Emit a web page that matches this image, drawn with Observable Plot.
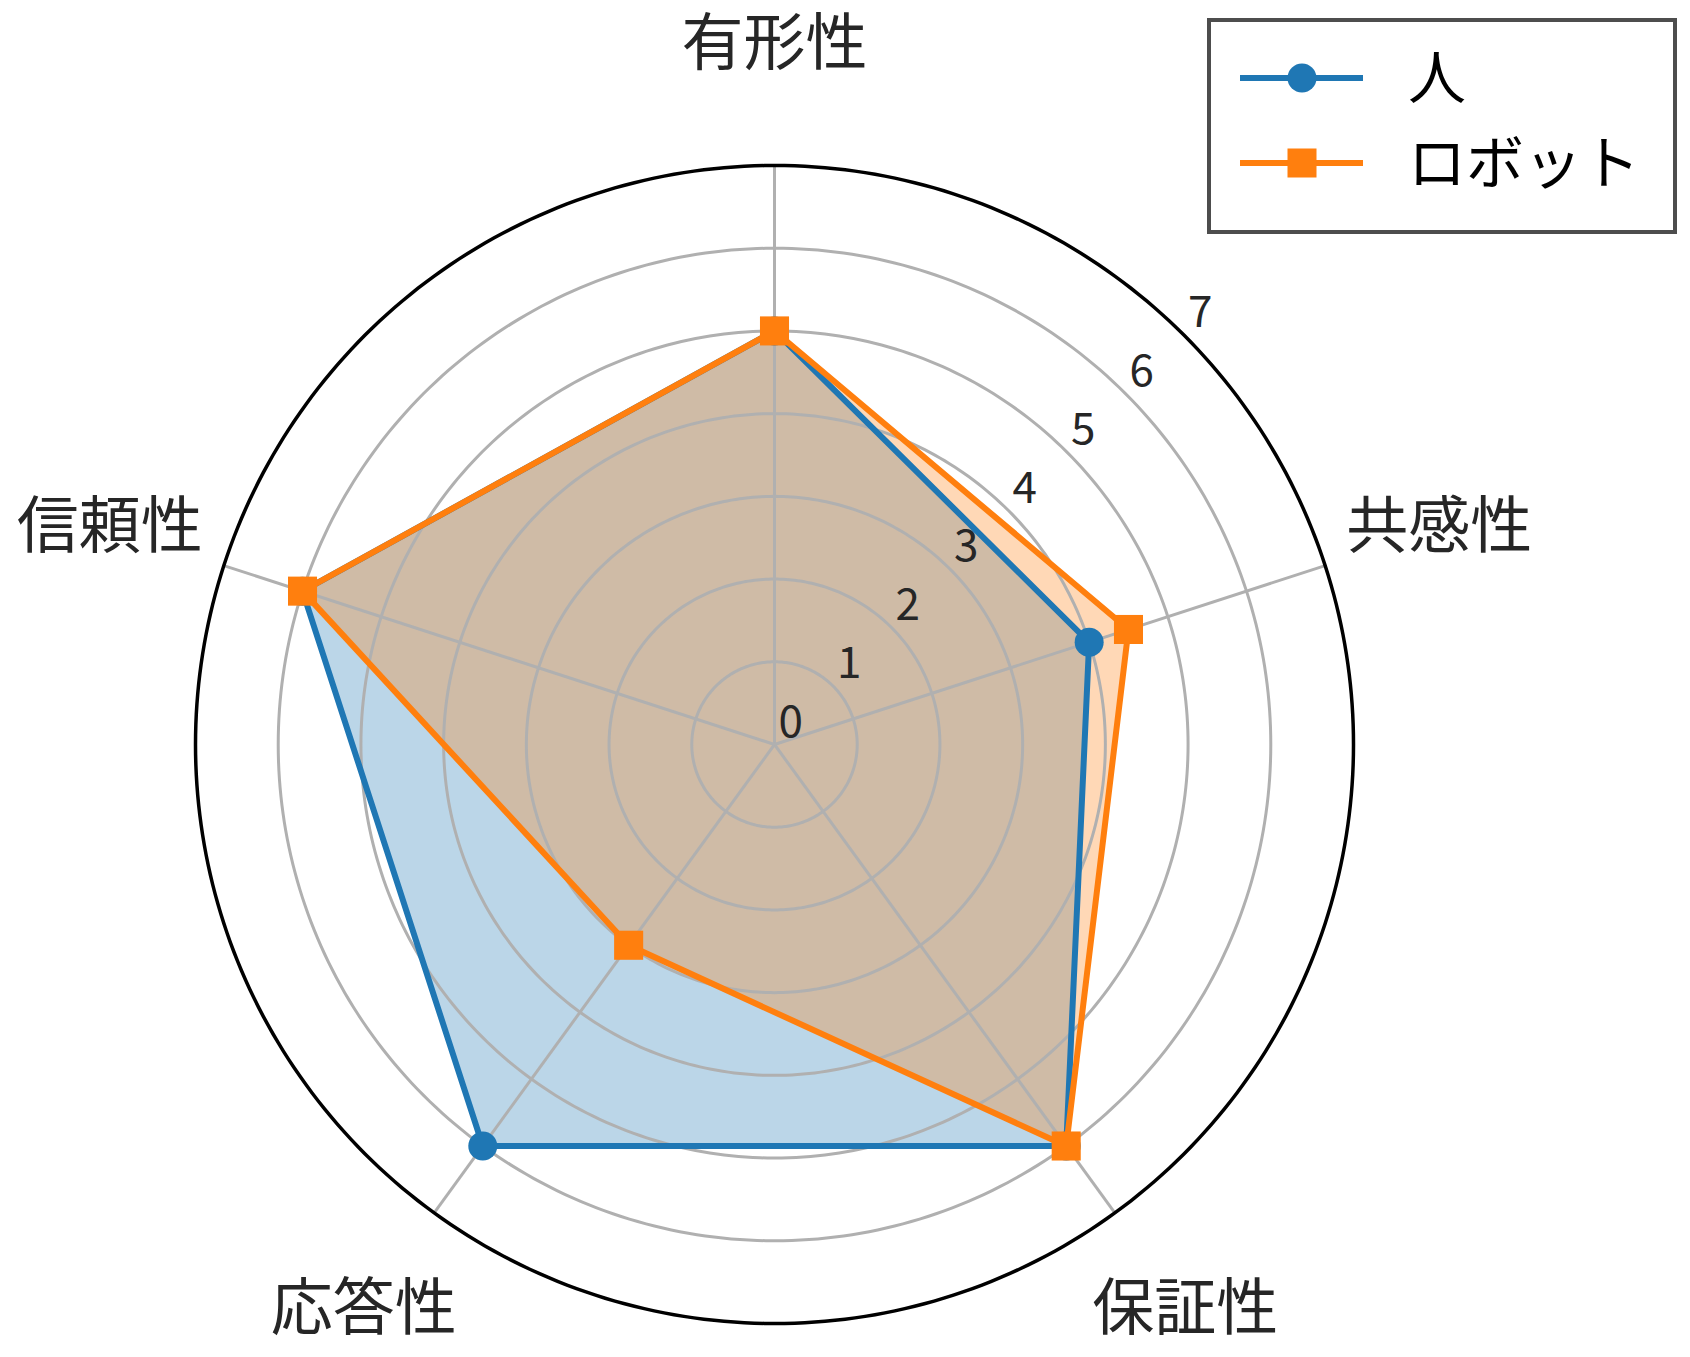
<!DOCTYPE html>
<html><head><meta charset="utf-8">
<script src="https://cdn.jsdelivr.net/npm/d3@7"></script>
<script src="https://cdn.jsdelivr.net/npm/@observablehq/plot@0.6"></script>
<style>
body{margin:0;background:#fff;}
#wrap{position:relative;width:1690px;height:1357px;overflow:hidden;}
#legend{position:absolute;left:1205px;top:16px;}
</style></head><body>
<div id="wrap"><div id="chart"></div><svg id="legend" width="474" height="220"></svg></div>
<script>
// ---- data ----
const categories = ["有形性", "共感性", "保証性", "応答性", "信頼性"];
const human = [5, 4, 6, 6, 6];
const robot = [5, 4.5, 6, 3, 6];
const seriesNames = ["人", "ロボット"];
const seriesColors = ["#1f77b4", "#ff7f0e"];
const rTicks = [0, 1, 2, 3, 4, 5, 6, 7];
const rMax = 7;

// ---- layout ----
const W = 1690, H = 1357, CX = 774, CY = 744, PX = 579 / rMax;
const FONT = '"Noto Sans CJK JP", "Noto Sans", sans-serif';
const ang = i => i * 2 * Math.PI / categories.length;
const pt = (r, a) => ({x: r * Math.sin(a), y: r * Math.cos(a)});
const circle = r => d3.range(0, 361, 1).map(d => pt(r, d * Math.PI / 180));
const rows = (vals, name) => vals.map((v, i) => ({...pt(v, ang(i)), series: name, cat: categories[i], v}));
const hRows = rows(human, seriesNames[0]);
const rRows = rows(robot, seriesNames[1]);
const labelR = 8.45;
const tickAngle = Math.PI / 4;
const GRID = "#b0b0b0";

const plot = Plot.plot({
  width: W, height: H, margin: 0,
  x: {domain: [-CX / PX, (W - CX) / PX], axis: null},
  y: {domain: [-(H - CY) / PX, CY / PX], axis: null},
  style: {fontFamily: FONT, background: "white"},
  marks: [
    // filled areas (drawn below grid, as in the reference)
    Plot.line(hRows, {x: "x", y: "y", curve: "linear-closed", fill: seriesColors[0], fillOpacity: 0.3, stroke: "none"}),
    Plot.line(rRows, {x: "x", y: "y", curve: "linear-closed", fill: seriesColors[1], fillOpacity: 0.3, stroke: "none"}),
    // grid
    ...rTicks.filter(t => t > 0 && t < rMax).map(t =>
      Plot.line(circle(t), {x: "x", y: "y", stroke: GRID, strokeWidth: 3})),
    Plot.link(categories, {
      x1: () => 0, y1: () => 0,
      x2: (d, i) => pt(rMax, ang(i)).x, y2: (d, i) => pt(rMax, ang(i)).y,
      stroke: GRID, strokeWidth: 3
    }),
    // radial tick labels
    Plot.text(rTicks, {
      x: d => pt(d, tickAngle).x, y: d => pt(d, tickAngle).y, text: d => String(d),
      textAnchor: "start", lineAnchor: "bottom", dx: 4, dy: -8,
      fontSize: 44, fill: "#262626"
    }),
    // series lines and markers
    Plot.line(hRows, {x: "x", y: "y", curve: "linear-closed", stroke: seriesColors[0], strokeWidth: 6, strokeLinejoin: "round"}),
    Plot.dot(hRows, {x: "x", y: "y", r: 14.5, fill: seriesColors[0], stroke: "none"}),
    Plot.line(rRows, {x: "x", y: "y", curve: "linear-closed", stroke: seriesColors[1], strokeWidth: 6, strokeLinejoin: "round"}),
    Plot.dot(rRows, {x: "x", y: "y", symbol: "square", r: 16.4, fill: seriesColors[1], stroke: "none"}),
    // outer spine
    Plot.line(circle(rMax), {x: "x", y: "y", stroke: "black", strokeWidth: 3.5}),
    // category labels
    Plot.text(categories, {
      x: (d, i) => pt(labelR, ang(i)).x, y: (d, i) => pt(labelR, ang(i)).y, text: d => d,
      textAnchor: "middle", lineAnchor: "middle", fontSize: 62, fill: "#262626"
    })
  ]
});
document.getElementById("chart").appendChild(plot);

// ---- legend ----
const lg = d3.select("#legend");
lg.append("rect").attr("x", 4).attr("y", 4).attr("width", 466).attr("height", 212)
  .attr("fill", "white").attr("stroke", "#4d4d4d").attr("stroke-width", 4);
seriesNames.forEach((name, i) => {
  const y = 62 + i * 85;
  lg.append("line").attr("x1", 35).attr("x2", 158).attr("y1", y).attr("y2", y)
    .attr("stroke", seriesColors[i]).attr("stroke-width", 6);
  if (i === 0) {
    lg.append("circle").attr("cx", 97).attr("cy", y).attr("r", 14.5).attr("fill", seriesColors[i]);
  } else {
    lg.append("rect").attr("x", 97 - 14.5).attr("y", y - 14.5).attr("width", 29).attr("height", 29).attr("fill", seriesColors[i]);
  }
  lg.append("text").attr("x", 203).attr("y", y).attr("dy", "0.36em")
    .attr("font-family", FONT).attr("font-size", 58).attr("fill", "black").text(name);
});
</script>
</body></html>
